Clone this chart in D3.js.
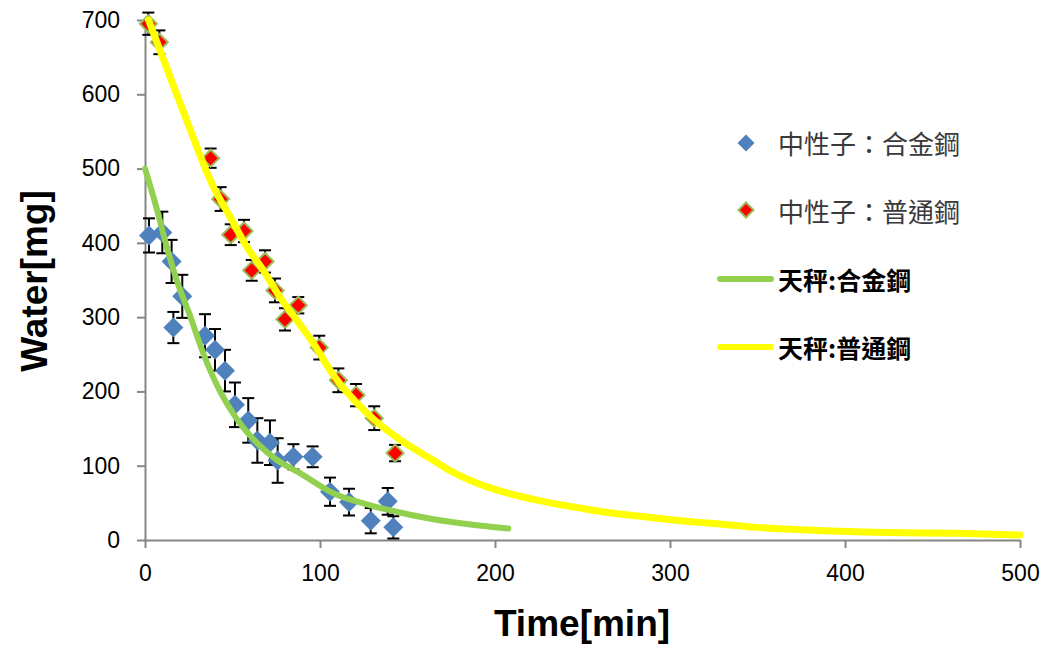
<!DOCTYPE html>
<html>
<head>
<meta charset="utf-8">
<script src="https://cdn.jsdelivr.net/npm/d3@7"></script>
<style>
  html, body { margin: 0; padding: 0; background: #ffffff; }
  svg { display: block; }
</style>
</head>
<body>
<svg id="chart" width="1045" height="649"></svg>
<script>
// ---------- data ----------
const xTicks = [0, 100, 200, 300, 400, 500];
const yTicks = [0, 100, 200, 300, 400, 500, 600, 700];

const seriesNames = ["中性子：合金鋼", "中性子：普通鋼", "天秤:合金鋼", "天秤:普通鋼"];

// neutron: alloy steel (time, water, error)
const alloyT   = [2.3, 9.9, 15.2, 16.2, 21.3, 34.3, 40, 45.7, 51.4, 59, 64.2, 71.4, 75.8, 84.8, 95.8, 105.7, 116.6, 129, 138.7, 141.9];
const alloyV   = [410, 414, 375, 286, 328, 275, 256, 228, 182, 161, 134, 131, 107, 112, 112, 65, 51, 26, 52, 17];
const alloyErr = [23, 28, 29, 21, 29, 29, 28, 28, 30, 30, 30, 30, 30, 17, 14, 19, 18, 17, 18, 15];

// neutron: ordinary steel
const ordT   = [1.9, 8.2, 37.5, 43.2, 49, 56.6, 61, 68.6, 74.3, 80, 87.6, 99.6, 110.5, 120.6, 131, 142.9];
const ordV   = [695, 670, 514, 459, 411, 416, 363, 375, 336, 297, 316, 259, 215, 195, 164, 117];
const ordErr = [15, 16, 13, 16, 14, 15, 14, 15, 16, 15, 11, 16, 16, 15, 16, 11];

// balance: alloy steel
const balAlloyT = [0, 6.7, 12.4, 18.1, 25.7, 34, 42.9, 52.4, 63.8, 75.2, 88.6, 107.6, 126.7, 145.7, 164.8, 183.8, 207.6];
const balAlloyV = [500, 446, 395, 350, 302, 247, 200, 163, 131, 108, 90, 63, 48, 37, 28, 21.5, 15.5];

// balance: ordinary steel
const balOrdT = [2, 12, 23.8, 39, 48.6, 58.1, 67.6, 77.1, 86.7, 96.2, 107.6, 126.7, 145.7, 162.9, 172.4, 191.4, 210.5, 229.5, 248.6, 267.6, 286.7, 305.7, 323, 349.5, 387.6, 425.7, 463.8, 500];
const balOrdV = [700, 638, 565, 476, 435, 395, 363, 327, 296, 265, 222, 171, 135, 110, 96, 75, 61, 51, 43, 36, 31, 26, 22.5, 17, 12.6, 10, 9, 6.7];

// ---------- drawing ----------
const svg = d3.select("#chart");
const x = d3.scaleLinear().domain([0, 500]).range([145, 1020]);
const y = d3.scaleLinear().domain([0, 700]).range([540, 20]);

const axisColor = "#868686";
const tickFont = "'Liberation Sans', Arial, sans-serif";

// axes
const yAxis = svg.append("g").attr("transform", "translate(145,0)")
  .call(d3.axisLeft(y).tickValues(yTicks).tickSize(8).tickSizeOuter(0).tickPadding(17).tickFormat(d3.format("d")));
const xAxis = svg.append("g").attr("transform", "translate(0,540)")
  .call(d3.axisBottom(x).tickValues(xTicks).tickSize(8).tickSizeOuter(0).tickPadding(17).tickFormat(d3.format("d")));
[xAxis, yAxis].forEach(g => {
  g.select(".domain").attr("stroke", axisColor).attr("stroke-width", 2);
  g.selectAll(".tick line").attr("stroke", axisColor).attr("stroke-width", 2);
  g.selectAll(".tick text").attr("fill", "#000").style("font-family", tickFont).style("font-size", "23px");
});

// axis titles
svg.append("text")
  .attr("x", 582).attr("y", 636)
  .attr("text-anchor", "middle")
  .style("font-family", tickFont).style("font-size", "37px").style("font-weight", "bold")
  .text("Time[min]");
svg.append("text")
  .attr("transform", "translate(47,281) rotate(-90)")
  .attr("text-anchor", "middle")
  .style("font-family", tickFont).style("font-size", "37px").style("font-weight", "bold")
  .text("Water[mg]");

function diamond(r) {
  return `M0,${-r}L${r},0L0,${r}L${-r},0Z`;
}

function drawPoints(T, V, E, r, fill, stroke, sw) {
  const data = T.map((t, i) => ({ t, v: V[i], e: E[i] }));
  const g = svg.append("g");
  const eb = g.selectAll(".eb").data(data).enter().append("g");
  eb.append("line")
    .attr("x1", d => x(d.t)).attr("x2", d => x(d.t))
    .attr("y1", d => y(d.v + d.e)).attr("y2", d => y(d.v - d.e))
    .attr("stroke", "#000").attr("stroke-width", 2);
  [1, -1].forEach(s => {
    eb.append("line")
      .attr("x1", d => x(d.t) - 6).attr("x2", d => x(d.t) + 6)
      .attr("y1", d => y(d.v + s * d.e)).attr("y2", d => y(d.v + s * d.e))
      .attr("stroke", "#000").attr("stroke-width", 2);
  });
  g.selectAll(".pt").data(data).enter().append("path")
    .attr("d", diamond(r))
    .attr("transform", d => `translate(${x(d.t)},${y(d.v)})`)
    .attr("fill", fill)
    .attr("stroke", stroke).attr("stroke-width", sw);
}

drawPoints(alloyT, alloyV, alloyErr, 10, "#4F81BD", "none", 0);
drawPoints(ordT, ordV, ordErr, 8.5, "#FF0000", "#9BBB59", 2);

function drawLine(T, V, color, w) {
  const data = T.map((t, i) => [t, V[i]]);
  svg.append("path")
    .datum(data)
    .attr("d", d3.line().x(d => x(d[0])).y(d => y(d[1])).curve(d3.curveMonotoneX))
    .attr("fill", "none")
    .attr("stroke", color)
    .attr("stroke-width", w)
    .attr("stroke-linecap", "round")
    .attr("stroke-linejoin", "round");
}
drawLine(balAlloyT, balAlloyV, "#92D050", 6);
drawLine(balOrdT, balOrdV, "#FFFF00", 7);

// legend
const legendFontCJK = "'Noto Sans CJK TC', 'Noto Sans CJK JP', sans-serif";
const leg = svg.append("g");
leg.append("path").attr("d", diamond(8.5)).attr("transform", "translate(746,143)").attr("fill", "#4F81BD");
leg.append("path").attr("d", diamond(7.5)).attr("transform", "translate(746,210)")
  .attr("fill", "#FF0000").attr("stroke", "#9BBB59").attr("stroke-width", 2);
leg.append("line").attr("x1", 720).attr("x2", 771).attr("y1", 279).attr("y2", 279)
  .attr("stroke", "#92D050").attr("stroke-width", 6).attr("stroke-linecap", "round");
leg.append("line").attr("x1", 720).attr("x2", 771).attr("y1", 347).attr("y2", 347)
  .attr("stroke", "#FFFF00").attr("stroke-width", 6).attr("stroke-linecap", "round");

const legY = [142, 210, 279, 347];
seriesNames.forEach((name, i) => {
  leg.append("text")
    .attr("x", 778).attr("y", legY[i])
    .attr("dominant-baseline", "central")
    .style("font-family", legendFontCJK)
    .style("font-size", i < 2 ? "26px" : "25px")
    .style("font-weight", i < 2 ? "normal" : "bold")
    .attr("fill", i < 2 ? "#3a3a3a" : "#000")
    .text(name);
});
</script>
</body>
</html>
